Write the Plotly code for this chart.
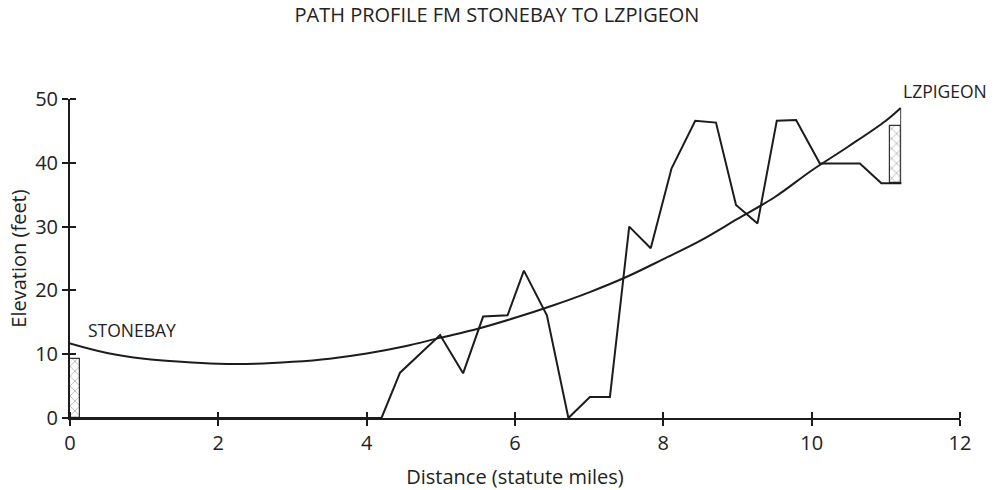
import plotly.graph_objects as go

# Terrain profile along the path (distance in statute miles, elevation in feet)
profile_dist = [0, 4.20, 4.45, 4.99, 5.30, 5.57, 5.90, 6.12, 6.43, 6.72, 7.01, 7.28,
                7.54, 7.83, 8.11, 8.43, 8.71, 8.98, 9.27, 9.53, 9.79, 10.11, 10.65,
                10.94, 11.21]
profile_elev = [0, 0, 7.1, 13.0, 7.0, 15.9, 16.1, 23.1, 16.1, 0, 3.3, 3.3,
                30.0, 26.6, 39.1, 46.6, 46.3, 33.4, 30.5, 46.6, 46.7, 39.9, 39.9,
                36.8, 36.8]

# Line-of-sight curve between the two antennas
los_dist = [0, 0.5, 1, 1.5, 2, 2.5, 3, 3.5, 4, 4.5, 5, 5.5, 6, 6.5, 7, 7.5, 8,
            8.5, 9, 9.5, 10, 10.5, 11, 11.2]
los_elev = [11.7, 10.2, 9.3, 8.8, 8.5, 8.5, 8.8, 9.3, 10.1, 11.2, 12.6, 14.0,
            15.7, 17.6, 19.7, 22.1, 24.9, 27.8, 31.2, 34.6, 38.8, 42.6, 46.6, 48.6]

# Towers: name, centre distance, width, base, top, label position
tower_names = ["STONEBAY", "LZPIGEON"]
tower_x = [0.068, 11.13]
tower_w = [0.135, 0.16]
tower_base = [0, 36.8]
tower_top = [9.2, 45.8]
label_x = [0.83, 11.8]
label_y = [13.8, 51.3]

x_ticks = [0, 2, 4, 6, 8, 10, 12]
y_ticks = [0, 10, 20, 30, 40, 50]
x_range = [0, 12]
y_range = [0, 50]

FONT = "Open Sans"
INK = "#1c1c1c"
TEXT = "#222222"

fig = go.Figure()

fig.add_trace(go.Bar(
    x=tower_x, y=[t - b for t, b in zip(tower_top, tower_base)], base=tower_base,
    width=tower_w,
    marker=dict(color="white", line=dict(color="#333333", width=1.2),
                pattern=dict(shape="x", fgcolor="#555555", bgcolor="white",
                             size=7, solidity=0.2)),
    hoverinfo="skip", showlegend=False,
))

# mast line from the far antenna down to its ground point
fig.add_trace(go.Scatter(
    x=[los_dist[-1], los_dist[-1]], y=[tower_base[1], los_elev[-1]],
    mode="lines", line=dict(color="#444444", width=1), showlegend=False,
    hoverinfo="skip",
))

fig.add_trace(go.Scatter(
    x=los_dist, y=los_elev, mode="lines",
    line=dict(color=INK, width=2, shape="spline", smoothing=1.0),
    showlegend=False,
))

fig.add_trace(go.Scatter(
    x=profile_dist, y=profile_elev, mode="lines",
    line=dict(color=INK, width=2), showlegend=False,
))

# site labels; y given as a fraction of the elevation span so labels above
# the top of the axis are still drawn
for name, lx, ly in zip(tower_names, label_x, label_y):
    fig.add_annotation(x=lx, xref="x", xanchor="center",
                       y=(ly - y_range[0]) / (y_range[1] - y_range[0]), yref="y domain",
                       yanchor="middle",
                       text=name, showarrow=False,
                       font=dict(family=FONT, size=17.5, color=TEXT))

axis_common = dict(showgrid=False, zeroline=False, showline=True, linecolor=INK,
                   linewidth=2, ticks="outside", ticklen=6, tickwidth=2,
                   tickcolor=INK, automargin=False,
                   tickfont=dict(family=FONT, size=20, color=TEXT))

# inner half of each cross tick: minor ticks nudged off the major positions
# so they are not dropped as duplicates
x_inner = [v + 0.0005 for v in x_ticks]
y_inner = [v + 0.002 for v in y_ticks]

fig.update_layout(
    width=1006, height=490,
    margin=dict(l=70, r=46, t=99, b=72),
    plot_bgcolor="white", paper_bgcolor="white",
    title=dict(text="PATH PROFILE FM STONEBAY TO LZPIGEON", x=0.494, xanchor="center",
               y=0.969, yanchor="middle",
               font=dict(family=FONT, size=20, color=TEXT)),
    xaxis=dict(range=x_range, tickvals=x_ticks, **axis_common,
               minor=dict(tickmode="array", tickvals=x_inner, ticks="inside",
                          ticklen=6, tickwidth=2, tickcolor=INK, showgrid=False),
               title=dict(text="Distance (statute miles)", standoff=17,
                          font=dict(family=FONT, size=20, color=TEXT))),
    yaxis=dict(range=y_range, tickvals=y_ticks, **axis_common,
               minor=dict(tickmode="array", tickvals=y_inner, ticks="inside",
                          ticklen=6, tickwidth=2, tickcolor=INK, showgrid=False),
               title=dict(text="Elevation (feet)", standoff=3,
                          font=dict(family=FONT, size=20, color=TEXT))),
    bargap=0,
)

fig.write_html("out.html")
